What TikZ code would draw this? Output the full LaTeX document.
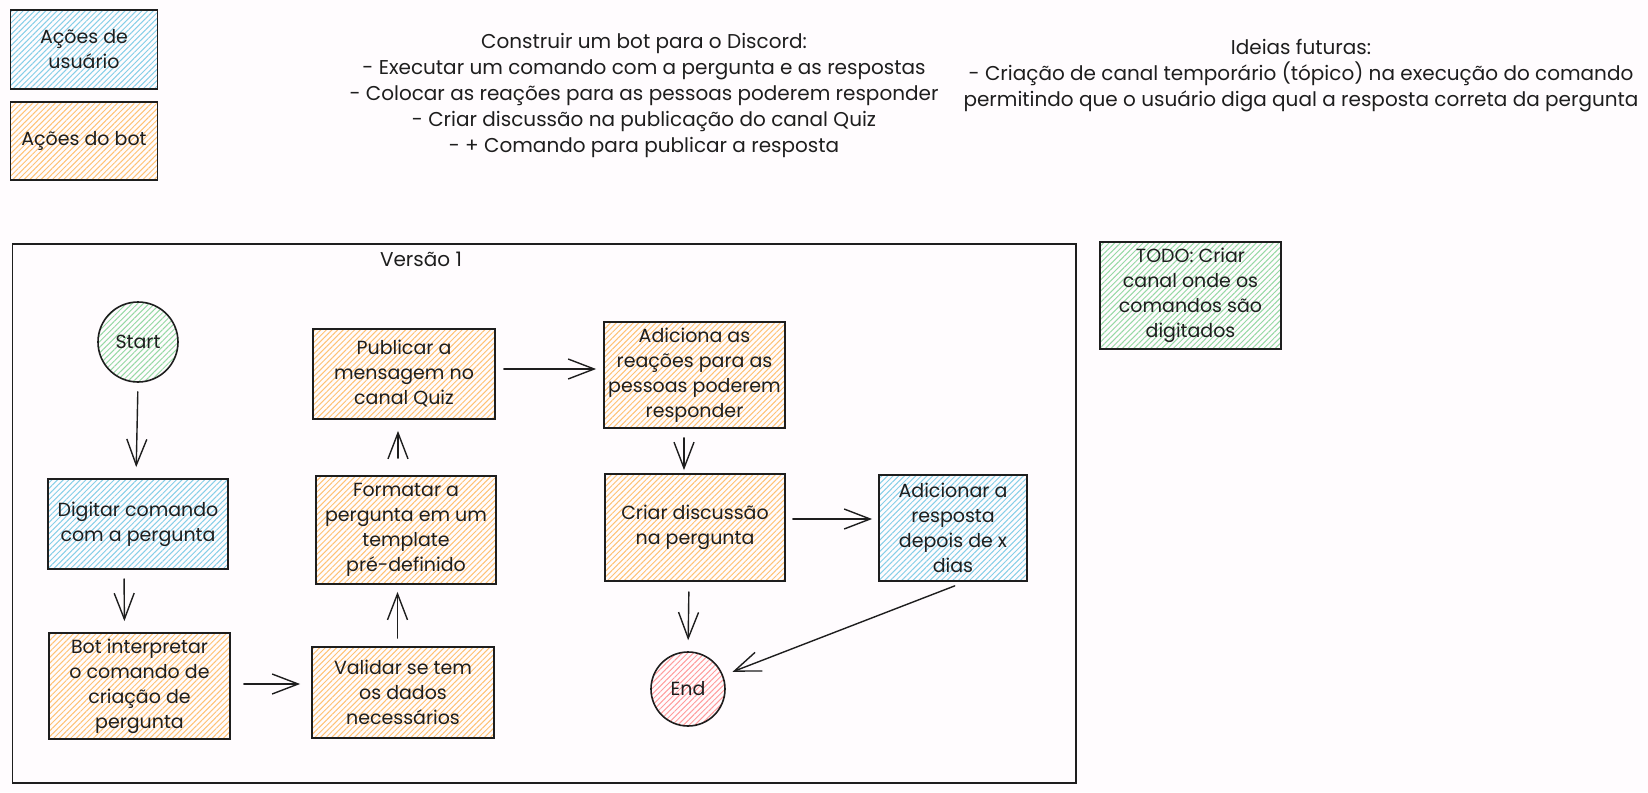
\documentclass[tikz,border=0pt]{standalone}
\usepackage{fontspec}
\setmainfont{Poppins}
\usepackage{xcolor}
\definecolor{exInk}{HTML}{1E1E1E}
\definecolor{exPaper}{HTML}{FFFCFE}
\definecolor{exBlue}{HTML}{86CFE8}
\definecolor{exOrange}{HTML}{FFC274}
\definecolor{exGreen}{HTML}{96D9A4}
\definecolor{exRed}{HTML}{FF9C9C}
\usepackage{tikz}
\usetikzlibrary{arrows.meta,positioning,patterns.meta}

\newcommand{\handfont}{\fontsize{9.5}{12.5}\selectfont}
\newcommand{\notefont}{\fontsize{10}{13}\selectfont}

\begin{document}
\begin{tikzpicture}[
			x=0.5pt, y=-0.5pt,
			box/.style={rectangle, draw=exInk, line width=0.9pt, inner sep=2pt,
				text=exInk, align=center, font=\handfont},
			hatch/.style={pattern={Lines[angle=45, distance=2pt, line width=0.5pt]}, pattern color=#1},
			userbox/.style={box, hatch=exBlue},
			botbox/.style={box, hatch=exOrange},
			todobox/.style={box, hatch=exGreen},
			term/.style={circle, draw=exInk, line width=0.8pt, inner sep=0pt,
				text=exInk, font=\handfont},
			note/.style={align=center, text=exInk, font=\notefont},
			arrow/.style={-{Straight Barb[length=13pt, width=10pt]}, line width=0.7pt, exInk, line cap=round}
			]
			\fill[exPaper] (0,0) rectangle (1648,792);
			\useasboundingbox (0,0) rectangle (1648,792);

			% legenda
			\node[userbox, minimum width=73.5pt, minimum height=39.5pt] (legUser) at (84,49.5) {Ações de\\ usuário};
			\node[botbox, minimum width=73.5pt, minimum height=39pt] (legBot) at (84,141) {Ações do bot};

			% notas
			\node[note] (goal) at (644,95) {Construir um bot para o Discord:\\
				- Executar um comando com a pergunta e as respostas\\
				- Colocar as reações para as pessoas poderem responder\\
				- Criar discussão na publicação do canal Quiz\\
				- + Comando para publicar a resposta};
			\node[note] (ideas) at (1301,76) {Ideias futuras:\\
				- Criação de canal temporário (tópico) na execução do comando\\
				permitindo que o usuário diga qual a resposta correta da pergunta};
			\node[todobox, minimum width=90.5pt, minimum height=53.5pt] (todo) at (1190.5,295.5) {TODO: Criar\\ canal onde os\\ comandos são\\ digitados};

			% versao 1
			\node[draw=exInk, line width=0.6pt, inner sep=0pt, minimum width=531.75pt, minimum height=269.5pt] (frame) at (544.25,513.5) {};
			\node[note] (frameLabel) at (421,259) {Versão 1};

			\node[term, hatch=exGreen, minimum size=40pt] (start) at (138,342) {Start};
			\node[userbox, minimum width=90pt, minimum height=45pt] (digitar) at (138,524) {Digitar comando\\ com a pergunta};
			\node[botbox, minimum width=90.5pt, minimum height=53pt] (interp) at (139.5,686) {Bot interpretar\\ o comando de\\ criação de\\ pergunta};
			\node[botbox, minimum width=91pt, minimum height=45.5pt] (validar) at (403,692.5) {Validar se tem\\ os dados\\ necessários};
			\node[botbox, minimum width=90pt, minimum height=54pt] (formatar) at (406,530) {Formatar a\\ pergunta em um\\ template\\ pré-definido};
			\node[botbox, minimum width=91pt, minimum height=45pt] (publicar) at (404,374) {Publicar a\\ mensagem no\\ canal Quiz};
			\node[botbox, minimum width=90.5pt, minimum height=53pt] (reacoes) at (694.5,375) {Adiciona as\\ reações para as\\ pessoas poderem\\ responder};
			\node[botbox, minimum width=90pt, minimum height=53.5pt] (discussao) at (695,527.5) {Criar discussão\\ na pergunta};
			\node[userbox, minimum width=74pt, minimum height=53pt] (resposta) at (953,528) {Adicionar a\\ resposta\\ depois de x\\ dias};
			\node[term, hatch=exRed, minimum size=37pt] (end) at (688,689) {End};

			% fluxo
			\draw[arrow, shorten <=4.5pt, shorten >=5.5pt] (start.south) -- ([shift={(-2,0)}]digitar.north);
			\draw[arrow, shorten <=4.5pt, shorten >=5.5pt] ([shift={(-14,0)}]digitar.south) -- ([shift={(-15,0)}]interp.north);
			\draw[arrow, shorten <=6.5pt, shorten >=5.5pt] ([shift={(0,-2)}]interp.east) -- ([shift={(0,-8.5)}]validar.west);
			\draw[arrow, shorten <=4pt, shorten >=3.5pt] ([shift={(-5.5,0)}]validar.north) -- ([shift={(-8.5,0)}]formatar.south);
			\draw[arrow, shorten <=8.5pt, shorten >=5.5pt] ([shift={(-8,0)}]formatar.north) -- ([shift={(-6,0)}]publicar.south);
			\draw[arrow, shorten <=4pt, shorten >=3.5pt] ([shift={(0,-5)}]publicar.east) -- ([shift={(0,-6)}]reacoes.west);
			\draw[arrow, shorten <=4.5pt, shorten >=1.5pt] ([shift={(-10.5,0)}]reacoes.south) -- ([shift={(-11,0)}]discussao.north);
			\draw[arrow, shorten <=3.5pt, shorten >=3pt] ([shift={(0,-8.5)}]discussao.east) -- ([shift={(0,-9)}]resposta.west);
			\draw[arrow, shorten <=5pt, shorten >=5.5pt] ([shift={(-6,0)}]discussao.south) -- (end.north);
			\draw[arrow, shorten <=5.5pt, shorten >=5pt] ([shift={(12,0)}]resposta.south) -- (end);
		\end{tikzpicture}
\end{document}
